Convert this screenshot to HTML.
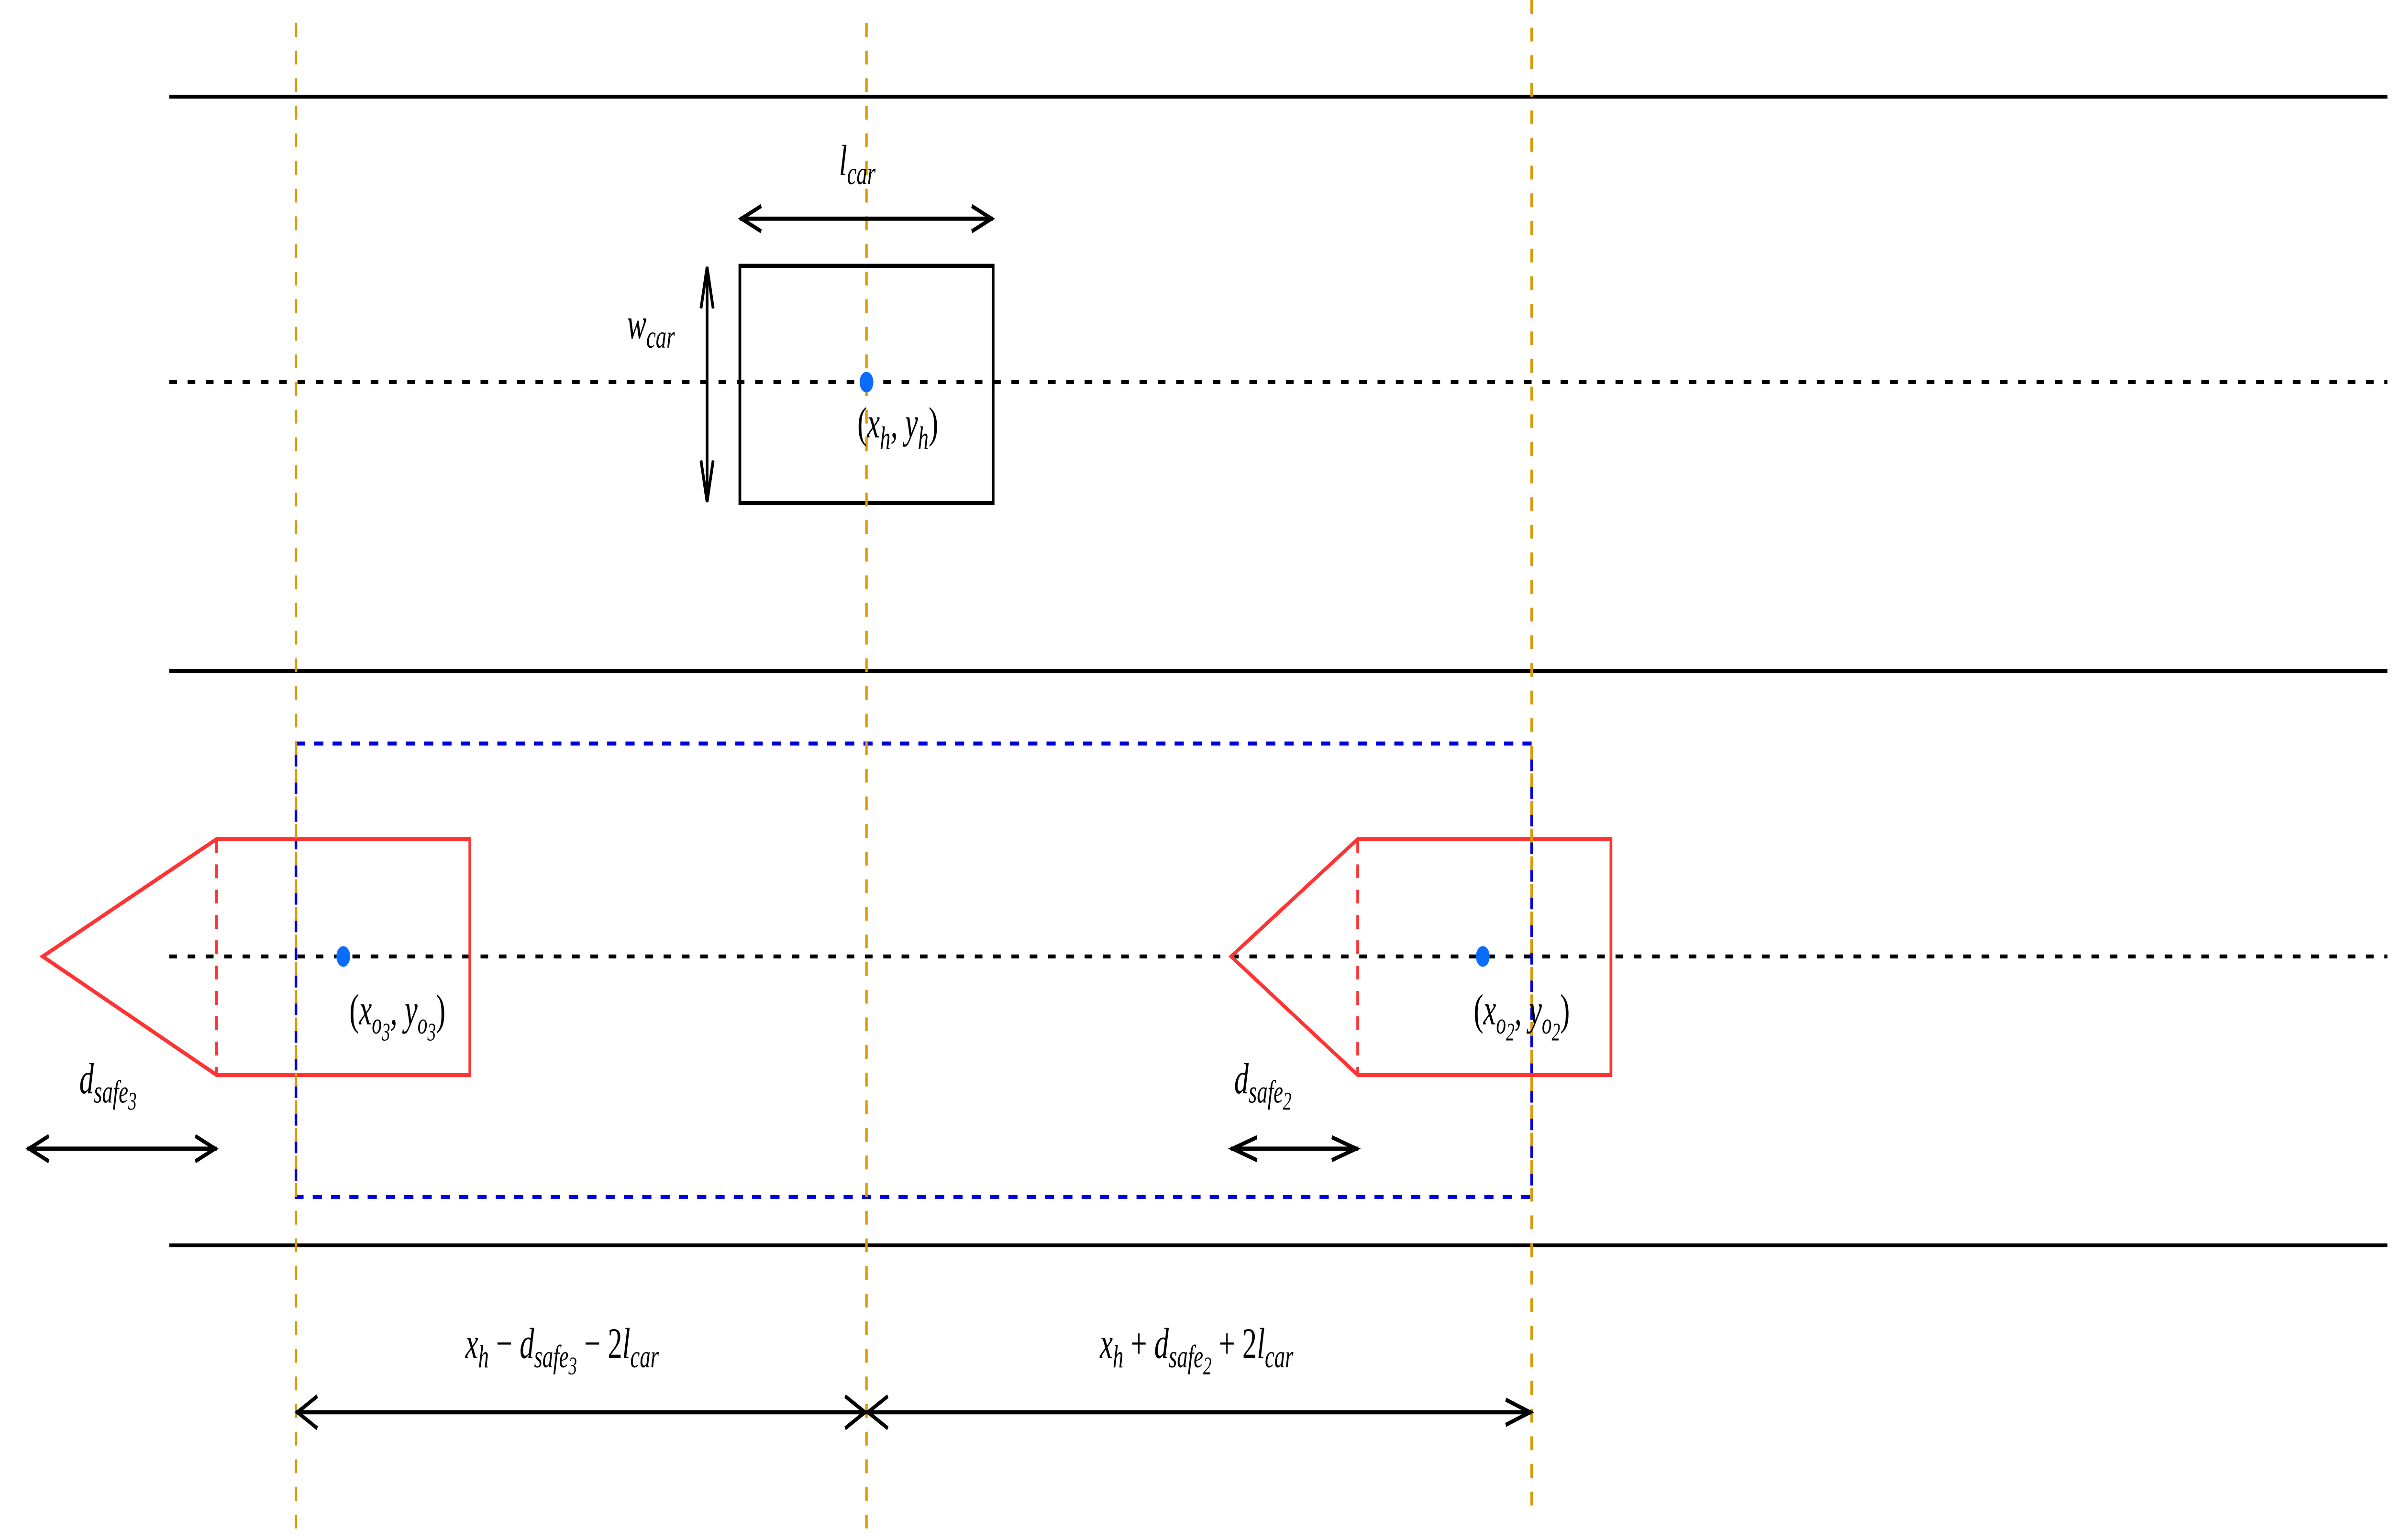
<!DOCTYPE html>
<html><head><meta charset="utf-8">
<style>
html,body{margin:0;padding:0;background:#fff;overflow:hidden;width:100%;height:100%;}
svg{display:block;width:100vw;height:100vh;}
text{font-family:"Liberation Serif",serif;font-style:italic;fill:#000;}
</style></head>
<body>
<svg viewBox="0 0 1568 669" preserveAspectRatio="none" xmlns="http://www.w3.org/2000/svg">
  <rect width="1568" height="669" fill="#fff"/>
  <g stroke="#000" stroke-width="1.7">
    <line x1="111" y1="42" x2="1565" y2="42"/>
    <line x1="111" y1="291.5" x2="1565" y2="291.5"/>
    <line x1="111" y1="541" x2="1565" y2="541"/>
  </g>
  <g stroke="#000" stroke-width="1.7" stroke-dasharray="5 7">
    <line x1="111" y1="166" x2="1565" y2="166"/>
    <line x1="111" y1="415.5" x2="1565" y2="415.5"/>
  </g>
  <rect x="194" y="323" width="810" height="197" fill="none" stroke="#0000dd" stroke-width="1.7" stroke-dasharray="6 6"/>
  <g fill="none" stroke="#ff3333" stroke-width="1.8">
    <polygon points="28,415.5 142,364.5 308,364.5 308,467 142,467"/>
    <line x1="142" y1="364.5" x2="142" y2="467" stroke-dasharray="6 5"/>
  </g>
  <g fill="none" stroke="#ff3333" stroke-width="1.8">
    <polygon points="807,415.5 890,364.5 1056,364.5 1056,467 890,467"/>
    <line x1="890" y1="364.5" x2="890" y2="467" stroke-dasharray="6 5"/>
  </g>
  <rect x="485" y="115.5" width="166" height="103" fill="none" stroke="#000" stroke-width="1.8"/>
  <g stroke="#d99b00" stroke-width="1.6" stroke-dasharray="6 6">
    <line x1="194" y1="10" x2="194" y2="667"/>
    <line x1="568" y1="10" x2="568" y2="667"/>
    <line x1="1004" y1="0" x2="1004" y2="657"/>
  </g>
  <circle cx="568" cy="166" r="4.5" fill="#0a6cff"/>
  <circle cx="225" cy="415.5" r="4.5" fill="#0a6cff"/>
  <circle cx="972" cy="415.5" r="4.5" fill="#0a6cff"/>
  <g fill="none" stroke="#000" stroke-width="1.8">
    <g>
      <line x1="485" y1="95" x2="651" y2="95"/>
      <polyline points="499,89.5 486,95 499,100.5"/><polyline points="637,89.5 650,95 637,100.5"/>
    </g>
    <g>
      <line x1="463.5" y1="116" x2="463.5" y2="218"/>
      <polyline points="459.5,134 463.5,116 467.5,134"/><polyline points="459.5,200 463.5,218 467.5,200"/>
    </g>
    <g>
      <line x1="18" y1="499" x2="142" y2="499"/>
      <polyline points="32,493.5 19,499 32,504.5"/><polyline points="128,493.5 141,499 128,504.5"/>
    </g>
    <g>
      <line x1="807" y1="499" x2="890" y2="499"/>
      <polyline points="824,494 808,499 824,504"/><polyline points="873,494 889,499 873,504"/>
    </g>
    <g>
      <line x1="194" y1="613.5" x2="568" y2="613.5"/>
      <polyline points="208,606.5 195,613.5 208,620.5"/><polyline points="554,606.5 567,613.5 554,620.5"/>
    </g>
    <g>
      <line x1="568" y1="613.5" x2="1004" y2="613.5"/>
      <polyline points="582,606.5 569,613.5 582,620.5"/><polyline points="987,608 1003,613.5 987,619"/>
    </g>
  </g>
  <text x="550" y="76" font-size="19">l<tspan font-size="14" dy="4">car</tspan></text>
  <text x="411" y="147" font-size="19">w<tspan font-size="14" dy="4">car</tspan></text>
  <text x="562" y="190" font-size="19"><tspan font-style="normal">(</tspan>x<tspan font-size="14" dy="5">h</tspan><tspan dy="-5">, y</tspan><tspan font-size="14" dy="5">h</tspan><tspan dy="-5" font-style="normal">)</tspan></text>
  <text x="229" y="445" font-size="19"><tspan font-style="normal">(</tspan>x<tspan font-size="13" dy="4">o<tspan font-size="11" dy="3">3</tspan></tspan><tspan dy="-7">, y</tspan><tspan font-size="13" dy="4">o<tspan font-size="11" dy="3">3</tspan></tspan><tspan dy="-7" font-style="normal">)</tspan></text>
  <text x="966" y="445" font-size="19"><tspan font-style="normal">(</tspan>x<tspan font-size="13" dy="4">o<tspan font-size="11" dy="3">2</tspan></tspan><tspan dy="-7">, y</tspan><tspan font-size="13" dy="4">o<tspan font-size="11" dy="3">2</tspan></tspan><tspan dy="-7" font-style="normal">)</tspan></text>
  <text x="52" y="475" font-size="19">d<tspan font-size="14" dy="4">safe</tspan><tspan font-size="11" dy="3">3</tspan></text>
  <text x="809" y="475" font-size="19">d<tspan font-size="14" dy="4">safe</tspan><tspan font-size="11" dy="3">2</tspan></text>
  <text x="305" y="590" font-size="19">x<tspan font-size="14" dy="4">h</tspan><tspan dy="-4" font-style="normal"> − </tspan>d<tspan font-size="14" dy="4">safe</tspan><tspan font-size="11" dy="3">3</tspan><tspan dy="-7" font-style="normal"> − 2</tspan>l<tspan font-size="14" dy="4">car</tspan></text>
  <text x="721" y="590" font-size="19">x<tspan font-size="14" dy="4">h</tspan><tspan dy="-4" font-style="normal"> + </tspan>d<tspan font-size="14" dy="4">safe</tspan><tspan font-size="11" dy="3">2</tspan><tspan dy="-7" font-style="normal"> + 2</tspan>l<tspan font-size="14" dy="4">car</tspan></text>
</svg>
</body></html>
